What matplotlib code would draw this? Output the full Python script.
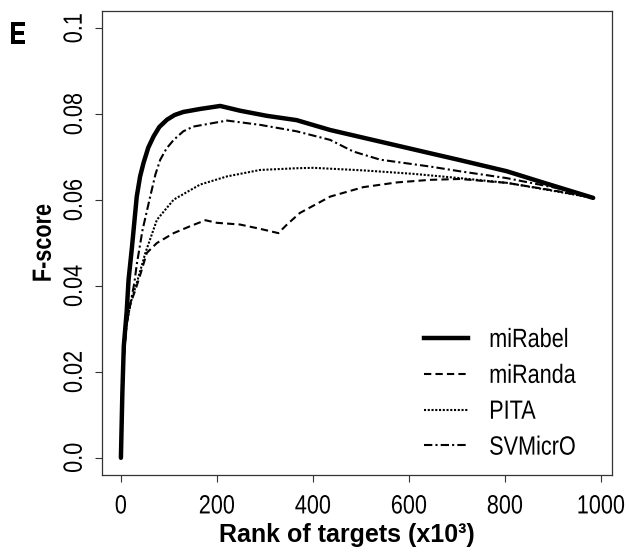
import matplotlib
matplotlib.use('Agg')
import matplotlib.pyplot as plt
from matplotlib.lines import Line2D
from matplotlib.patheffects import AbstractPathEffect
from matplotlib.transforms import Affine2D

plt.rcParams['font.family'] = ['Liberation Sans', 'DejaVu Sans']

# ---- data (rank in thousands, F-score) ----
mirabel_x = [0, 3, 6, 12, 16, 23, 33, 40, 47, 57, 68, 80, 96, 112, 130, 165, 207,
             248, 304, 366, 436, 540, 644, 706, 804, 873, 984]
mirabel_y = [0.0, 0.015, 0.026, 0.034, 0.0415, 0.049, 0.0608, 0.0655, 0.0686, 0.0722,
             0.0748, 0.0770, 0.0787, 0.0798, 0.0805, 0.0812, 0.0819, 0.0808, 0.0796,
             0.0786, 0.0763, 0.0736, 0.0709, 0.0693, 0.0667, 0.0643, 0.0605]

miranda_x = [0, 4, 10, 20, 30, 40, 54, 75, 110, 144, 176, 200, 248, 290, 328, 346,
             373, 436, 505, 575, 644, 706, 804, 908, 984]
miranda_y = [0.0, 0.02, 0.03, 0.036, 0.039, 0.0425, 0.0477, 0.05, 0.0523, 0.0539,
             0.0553, 0.0547, 0.0543, 0.0533, 0.0523, 0.0543, 0.057, 0.0608, 0.063,
             0.0641, 0.0647, 0.0649, 0.064, 0.0621, 0.0605]

pita_x = [0, 4, 10, 20, 33, 51, 75, 110, 165, 221, 290, 366, 401, 505, 609, 706,
          804, 908, 984]
pita_y = [0.0, 0.02, 0.03, 0.036, 0.0407, 0.0477, 0.0554, 0.0601, 0.0636, 0.0655,
          0.067, 0.0674, 0.0675, 0.0669, 0.0661, 0.0651, 0.064, 0.062, 0.0605]

svmicro_x = [0, 5, 12, 20, 28, 33, 45, 61, 72, 82, 95, 110, 130, 151, 221, 290, 366,
             436, 484, 540, 644, 706, 804, 908, 984]
svmicro_y = [0.0, 0.022, 0.031, 0.036, 0.0407, 0.045, 0.053, 0.0608, 0.0660, 0.0694,
             0.0720, 0.074, 0.0760, 0.0771, 0.0785, 0.0775, 0.076, 0.074, 0.0713,
             0.0694, 0.0678, 0.0667, 0.0651, 0.0628, 0.0605]

labels = ['miRabel', 'miRanda', 'PITA', 'SVMicrO']
xticks = [0, 200, 400, 600, 800, 1000]
yticks = [0.0, 0.02, 0.04, 0.06, 0.08, 0.1]
ytick_labels = ['0.0', '0.02', '0.04', '0.06', '0.08', '0.1']


class Narrow(AbstractPathEffect):
    """squeeze glyphs along the text direction (no narrow helvetica here)"""
    def __init__(self, sx=0.82, align='center'):
        super().__init__()
        self.sx = sx
        self.align = align

    def draw_path(self, renderer, gc, tpath, affine, rgbFace=None):
        w = tpath.get_extents().x1
        shift = {'left': 0.0, 'center': 0.5, 'right': 1.0}[self.align] * (1 - self.sx) * w
        aff = Affine2D().scale(self.sx, 1).translate(shift, 0) + affine
        renderer.draw_path(gc, tpath, aff, rgbFace)


fig = plt.figure(figsize=(6.29, 5.58), dpi=100)
ax = fig.add_axes([102 / 629, 83 / 558, 510 / 629, 464 / 558])

ax.plot(svmicro_x, svmicro_y, color='black', lw=1.5, dashes=(4, 1.5, 1, 1.5))
ax.plot(pita_x, pita_y, color='black', lw=1.5, dashes=(1, 0.8))
ax.plot(miranda_x, miranda_y, color='black', lw=1.5, dashes=(3.5, 2))
ax.plot(mirabel_x, mirabel_y, color='black', lw=3.2, solid_capstyle='round')

ax.set_xlim(-39.4, 1023.2)
ax.set_ylim(-0.004, 0.104)

ax.set_xticks(xticks)
ax.set_yticks(yticks)
ax.set_yticklabels(ytick_labels, rotation=90, va='center')
ax.tick_params(axis='both', labelsize=19, length=5, width=0.8, color='#333333')
ax.tick_params(axis='x', pad=9)
ax.tick_params(axis='y', pad=6)
for s in ax.spines.values():
    s.set_linewidth(0.9)
    s.set_color('#333333')

for t in ax.get_xticklabels() + ax.get_yticklabels():
    t.set_path_effects([Narrow(align='center')])

xl = ax.set_xlabel('Rank of targets (x10³)', fontsize=18, fontweight='bold', labelpad=3.5)
xl.set_x(0.48)
yl = ax.set_ylabel('F-score', fontsize=19, fontweight='bold', labelpad=5)
yl.set_path_effects([Narrow(align='center')])

handles = [Line2D([], [], color='black', lw=3.2),
           Line2D([], [], color='black', lw=1.5, dashes=(3.5, 2)),
           Line2D([], [], color='black', lw=1.5, dashes=(1, 0.8)),
           Line2D([], [], color='black', lw=1.5, dashes=(4, 1.5, 1, 1.5))]
leg = fig.legend(handles, labels, loc='upper left', bbox_to_anchor=(424 / 629, 1 - 328 / 558),
                 frameon=False, fontsize=19, handlelength=1.67, handletextpad=0.8,
                 labelspacing=0.45, borderpad=0, borderaxespad=0)
for t in leg.get_texts():
    t.set_path_effects([Narrow(align='left')])

e = fig.text(9 / 629, 1 - 36 / 558, 'E', fontsize=23, fontweight='bold', va='center', ha='left')
e.set_path_effects([Narrow(align='left')])

plt.savefig('out.png', dpi=100)
